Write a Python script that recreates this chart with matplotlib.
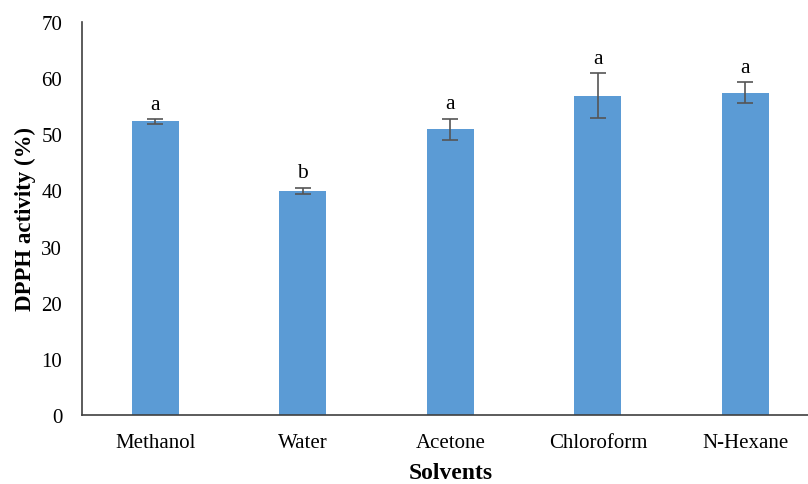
import matplotlib.pyplot as plt

solvents = ["Methanol", "Water", "Acetone", "Chloroform", "N-Hexane"]
dpph = [52.3, 39.9, 50.9, 56.9, 57.4]
sd = [0.4, 0.6, 1.9, 3.95, 1.85]
letters = ["a", "b", "a", "a", "a"]
y_ticks = [0, 10, 20, 30, 40, 50, 60, 70]


def main():
    plt.rcParams["font.family"] = ["Liberation Serif", "DejaVu Serif"]
    fig = plt.figure(figsize=(8.08, 4.85), dpi=100)
    ax = fig.add_axes([0.101, 0.1423, 0.9127, 0.8103])

    x = list(range(len(solvents)))
    ax.bar(x, dpph, width=0.317, color="#5B9BD5", zorder=2)
    ax.errorbar(x, dpph, yerr=sd, fmt="none", ecolor="#555555",
                elinewidth=1.2, capsize=5.5, capthick=1.2, zorder=3)
    for i in x:
        ax.annotate(letters[i], (i, dpph[i] + sd[i]), xytext=(0, 4),
                    textcoords="offset points", ha="center", va="bottom",
                    fontsize=15.5)

    ax.set_xlim(-0.5, len(solvents) - 0.5)
    ax.set_ylim(0, 70)
    ax.set_yticks(y_ticks)
    ax.set_xticks(x)
    ax.set_xticklabels(solvents)
    ax.tick_params(axis="both", length=0, labelsize=15)
    ax.tick_params(axis="y", pad=14)
    ax.tick_params(axis="x", pad=13)
    for side in ["top", "right"]:
        ax.spines[side].set_visible(False)
    for side in ["left", "bottom"]:
        ax.spines[side].set_color("#404040")
        ax.spines[side].set_linewidth(1.2)

    ax.set_xlabel("Solvents", fontsize=17, fontweight="bold", labelpad=7)
    ax.set_ylabel("DPPH activity (%)", fontsize=16.5, fontweight="bold",
                  labelpad=4)
    fig.savefig("out.png", dpi=100)


if __name__ == "__main__":
    main()
